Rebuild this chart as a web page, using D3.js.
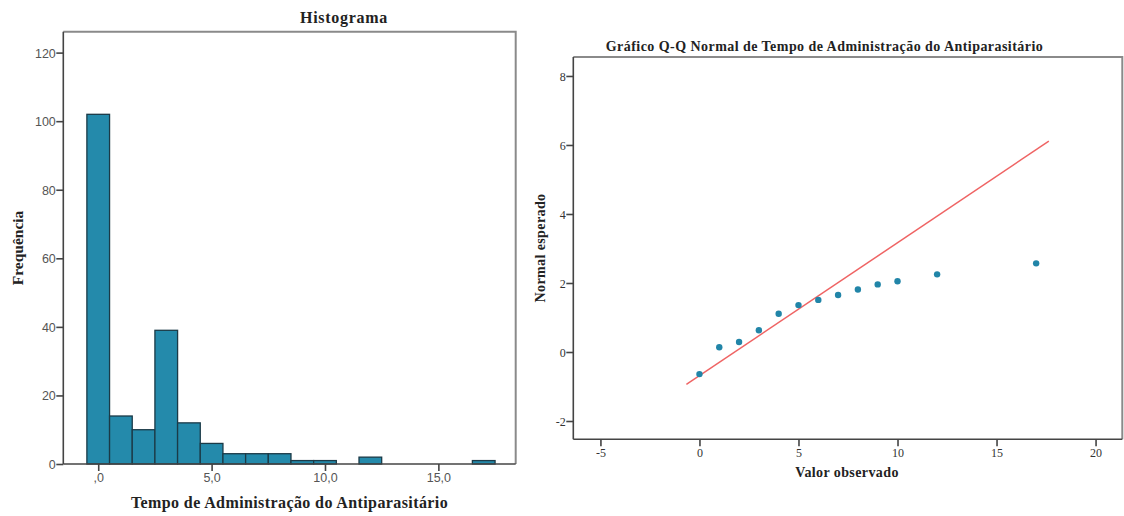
<!DOCTYPE html>
<html>
<head>
<meta charset="utf-8">
<script src="https://cdn.jsdelivr.net/npm/d3@7"></script>
<style>
  body { margin: 0; background: #fff; }
  svg { display: block; }
</style>
</head>
<body>
<svg id="chart" width="1124" height="516"></svg>
<script>
// ---------- DATA ----------
const binCenters = [0,1,2,3,4,5,6,7,8,9,10,11,12,13,14,15,16,17];
const binCounts  = [102,14,10,39,12,6,3,3,3,1,1,0,2,0,0,0,0,1];
const histYTicks = [0,20,40,60,80,100,120];
const histXTicks = [0,5,10,15];
const histXTickLabels = [",0","5,0","10,0","15,0"];

const qqObserved = [0,1,2,3,4,5,6,7,8,9,10,12,17];
const qqExpected = [-0.64,0.14,0.29,0.63,1.11,1.36,1.51,1.65,1.81,1.96,2.05,2.25,2.57];
const qqLineX = [-0.66, 17.64];
const qqLineY = [-0.94, 6.11];
const qqXTicks = [-5,0,5,10,15,20];
const qqXTickLabels = ["-5","0","5","10","15","20"];
const qqYTicks = [-2,0,2,4,6,8];
const qqYTickLabels = ["-2","0","2","4","6","8"];

const svg = d3.select("#chart");
const serif = "'Liberation Serif','Times New Roman',serif";
const sans = "'Liberation Sans',Arial,sans-serif";

// ---------- HISTOGRAM ----------
{
  const L = 63.3, R = 515.7, T = 31.7, B = 464;
  const x = d3.scaleLinear().domain([-1.54, 18.41]).range([L, R]);
  const y = d3.scaleLinear().domain([0, 126.1]).range([B, T]);
  const g = svg.append("g");

  g.append("path")
    .attr("d", `M${L},${T}H${R}V${B}`)
    .attr("fill", "none").attr("stroke", "#8a8a8a").attr("stroke-width", 2);

  g.selectAll("rect.bar").data(binCenters.map((c, i) => ({c, n: binCounts[i]})).filter(d => d.n > 0))
    .enter().append("rect")
    .attr("x", d => x(d.c - 0.5))
    .attr("width", d => x(d.c + 0.5) - x(d.c - 0.5))
    .attr("y", d => y(d.n))
    .attr("height", d => y(0) - y(d.n))
    .attr("fill", "#248aab")
    .attr("stroke", "#1b3a47")
    .attr("stroke-width", 1.3);

  const ya = g.append("g").attr("transform", `translate(${L},0)`)
    .call(d3.axisLeft(y).tickValues(histYTicks).tickSize(7).tickSizeOuter(0).tickFormat(d3.format("d")));
  const xa = g.append("g").attr("transform", `translate(0,${B})`)
    .call(d3.axisBottom(x).tickValues(histXTicks).tickSize(7).tickSizeOuter(0)
      .tickFormat((d, i) => histXTickLabels[i]));
  [ya, xa].forEach(a => {
    a.select(".domain").attr("stroke", "#444").attr("stroke-width", 1.6);
    a.selectAll(".tick line").attr("stroke", "#444").attr("stroke-width", 1.6);
    a.selectAll(".tick text").attr("fill", "#555").style("font-family", sans).style("font-size", "12.5px");
  });
  ya.selectAll(".tick text").attr("x", -7.5).attr("dy", "0.36em");
  xa.selectAll(".tick text").attr("y", 9.5);
  ya.select(".domain").attr("d", `M0,${T}V${B}`);
  xa.select(".domain").attr("d", `M${L},0H${R}`);

  g.append("text").attr("x", 344).attr("y", 22.5).attr("text-anchor", "middle")
    .style("font-family", serif).style("font-weight", "bold").style("font-size", "16px")
    .style("letter-spacing", "0.7px")
    .attr("fill", "#222").text("Histograma");
  g.append("text").attr("x", (L + R) / 2).attr("y", 508).attr("text-anchor", "middle")
    .style("font-family", serif).style("font-weight", "bold").style("font-size", "16px")
    .style("letter-spacing", "0.4px")
    .attr("fill", "#222").text("Tempo de Administração do Antiparasitário");
  g.append("text").attr("transform", `translate(23,248) rotate(-90)`).attr("text-anchor", "middle")
    .style("font-family", serif).style("font-weight", "bold").style("font-size", "15.5px")
    .attr("fill", "#222").text("Frequência");
}

// ---------- Q-Q PLOT ----------
{
  const L = 573.3, R = 1122.3, T = 57, B = 439.3;
  const x = d3.scaleLinear().domain([-6.37, 21.35]).range([L, R]);
  const y = d3.scaleLinear().domain([-2.53, 8.55]).range([B, T]);
  const g = svg.append("g");

  g.append("path")
    .attr("d", `M${L},${T}H${R}V${B}`)
    .attr("fill", "none").attr("stroke", "#8a8a8a").attr("stroke-width", 2);

  const ya = g.append("g").attr("transform", `translate(${L},0)`)
    .call(d3.axisLeft(y).tickValues(qqYTicks).tickSize(7).tickSizeOuter(0)
      .tickFormat((d, i) => qqYTickLabels[i]));
  const xa = g.append("g").attr("transform", `translate(0,${B})`)
    .call(d3.axisBottom(x).tickValues(qqXTicks).tickSize(7).tickSizeOuter(0)
      .tickFormat((d, i) => qqXTickLabels[i]));
  [ya, xa].forEach(a => {
    a.select(".domain").attr("stroke", "#444").attr("stroke-width", 1.6);
    a.selectAll(".tick line").attr("stroke", "#444").attr("stroke-width", 1.6);
    a.selectAll(".tick text").attr("fill", "#333").style("font-family", serif).style("font-size", "12px");
  });
  ya.selectAll(".tick text").attr("x", -7.5).attr("dy", "0.36em");
  xa.selectAll(".tick text").attr("y", 9);
  ya.select(".domain").attr("d", `M0,${T}V${B}`);
  xa.select(".domain").attr("d", `M${L},0H${R}`);

  g.append("line")
    .attr("x1", x(qqLineX[0])).attr("y1", y(qqLineY[0]))
    .attr("x2", x(qqLineX[1])).attr("y2", y(qqLineY[1]))
    .attr("stroke", "#ef6464").attr("stroke-width", 1.5);

  g.selectAll("circle").data(qqObserved.map((v, i) => ({v, e: qqExpected[i]})))
    .enter().append("circle")
    .attr("cx", d => x(d.v)).attr("cy", d => y(d.e)).attr("r", 3.2)
    .attr("fill", "#2185a8");

  g.append("text").attr("x", 824.5).attr("y", 50.5).attr("text-anchor", "middle")
    .style("font-family", serif).style("font-weight", "bold").style("font-size", "14px")
    .style("letter-spacing", "0.45px")
    .attr("fill", "#222").text("Gráfico Q-Q Normal de Tempo de Administração do Antiparasitário");
  g.append("text").attr("x", 847).attr("y", 477).attr("text-anchor", "middle")
    .style("font-family", serif).style("font-weight", "bold").style("font-size", "14px")
    .style("letter-spacing", "0.4px")
    .attr("fill", "#222").text("Valor observado");
  g.append("text").attr("transform", `translate(545,248) rotate(-90)`).attr("text-anchor", "middle")
    .style("font-family", serif).style("font-weight", "bold").style("font-size", "14px")
    .style("letter-spacing", "0.4px")
    .attr("fill", "#222").text("Normal esperado");
}
</script>
</body>
</html>
